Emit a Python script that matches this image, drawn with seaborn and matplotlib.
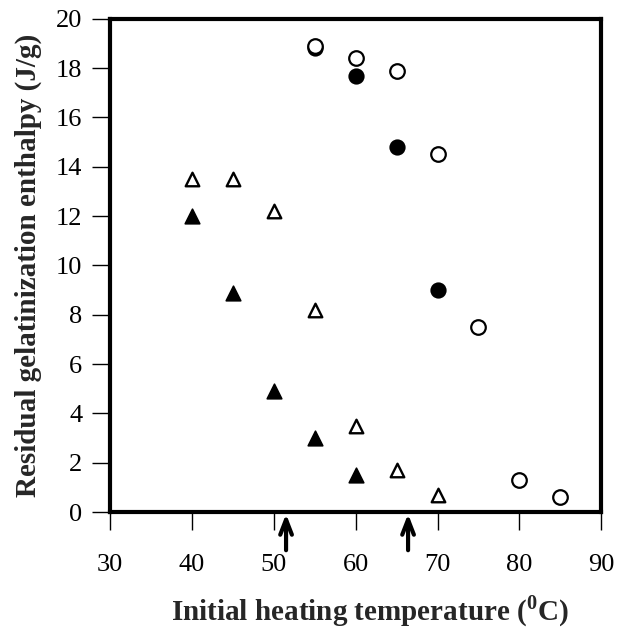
import matplotlib
matplotlib.use("Agg")
import matplotlib.pyplot as plt
import seaborn as sns

sns.set_theme(style="white")
plt.rcParams['font.family'] = ['Liberation Serif', 'DejaVu Serif']
plt.rcParams['mathtext.fontset'] = 'custom'
plt.rcParams['mathtext.rm'] = 'Liberation Serif'
plt.rcParams['mathtext.bf'] = 'Liberation Serif:bold'

# Data
open_circle_x = [55, 60, 65, 70, 75, 80, 85]
open_circle_y = [18.9, 18.4, 17.9, 14.5, 7.5, 1.3, 0.6]
filled_circle_x = [55, 60, 65, 70]
filled_circle_y = [18.8, 17.7, 14.8, 9.0]
open_tri_x = [40, 45, 50, 55, 60, 65, 70]
open_tri_y = [13.5, 13.5, 12.2, 8.2, 3.5, 1.7, 0.7]
filled_tri_x = [40, 45, 50, 55, 60]
filled_tri_y = [12.0, 8.9, 4.9, 3.0, 1.5]
arrow_x = [51.5, 66.4]

x_ticks = [30, 40, 50, 60, 70, 80, 90]
y_ticks = [0, 2, 4, 6, 8, 10, 12, 14, 16, 18, 20]

fig = plt.figure(figsize=(6.18, 6.29), dpi=100)
ax = fig.add_axes([0.178, 0.186, 0.795, 0.784])

sns.scatterplot(x=filled_circle_x, y=filled_circle_y, ax=ax, marker='o', s=110,
                color='black', edgecolor='black', linewidth=1.2, zorder=3)
sns.scatterplot(x=open_circle_x, y=open_circle_y, ax=ax, marker='o', s=110,
                facecolor='white', edgecolor='black', linewidth=1.6, zorder=4)
sns.scatterplot(x=filled_tri_x, y=filled_tri_y, ax=ax, marker='^', s=110,
                color='black', edgecolor='black', linewidth=1.2, zorder=3)
sns.scatterplot(x=open_tri_x, y=open_tri_y, ax=ax, marker='^', s=95,
                facecolor='white', edgecolor='black', linewidth=1.7, zorder=3)

ax.set_xlim(30, 90)
ax.set_ylim(0, 20)
ax.set_xticks(x_ticks)
ax.set_yticks(y_ticks)
ax.tick_params(axis='both', direction='out', length=13, width=1.0, colors='black',
               labelsize=19, bottom=True, left=True)
ax.tick_params(axis='x', pad=17)
ax.tick_params(axis='y', pad=7)
for sp in ax.spines.values():
    sp.set_visible(True)
    sp.set_linewidth(3)
    sp.set_color('black')

ax.set_xlabel(r'Initial heating temperature ($^{\mathbf{0}}$C)', fontsize=21,
              fontweight='bold')
ax.set_ylabel('Residual gelatinization enthalpy (J/g)', fontsize=21,
              fontweight='bold', labelpad=10)
ax.xaxis.set_label_coords(0.53, -0.165)

for xa in arrow_x:
    ax.annotate('', xy=(xa, -0.08), xytext=(xa, -1.55), xycoords='data',
                annotation_clip=False,
                arrowprops=dict(arrowstyle='->,head_length=0.9,head_width=0.35',
                                lw=3, color='black', shrinkA=0, shrinkB=0))

fig.savefig('out.png', dpi=100)
